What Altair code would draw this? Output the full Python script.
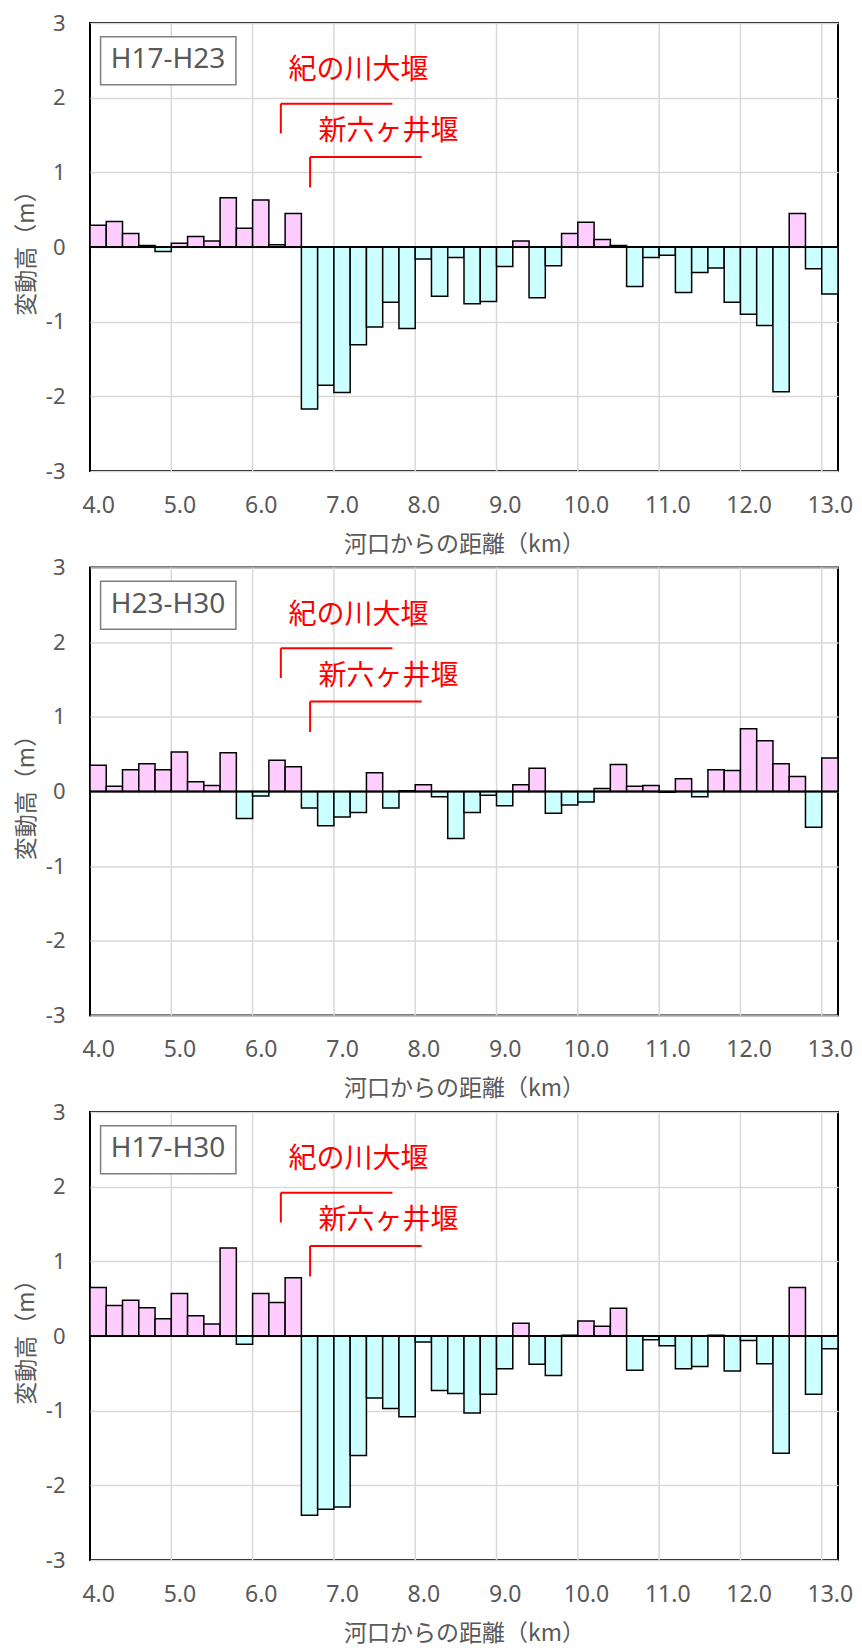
import altair as alt
import pandas as pd

# ---------------- data ----------------
distance_km = [4.0, 4.2, 4.4, 4.6, 4.8, 5.0, 5.2, 5.4, 5.6, 5.8,
               6.0, 6.2, 6.4, 6.6, 6.8, 7.0, 7.2, 7.4, 7.6, 7.8,
               8.0, 8.2, 8.4, 8.6, 8.8, 9.0, 9.2, 9.4, 9.6, 9.8,
               10.0, 10.2, 10.4, 10.6, 10.8, 11.0, 11.2, 11.4, 11.6, 11.8,
               12.0, 12.2, 12.4, 12.6, 12.8, 13.0]

h17_h23 = [0.29, 0.34, 0.18, 0.02, -0.06, 0.05, 0.14, 0.08, 0.66, 0.25,
           0.63, 0.03, 0.45, -2.17, -1.85, -1.95, -1.31, -1.07, -0.74, -1.09,
           -0.16, -0.66, -0.14, -0.76, -0.73, -0.26, 0.08, -0.68, -0.25, 0.18,
           0.33, 0.10, 0.02, -0.53, -0.14, -0.11, -0.61, -0.34, -0.28, -0.74,
           -0.90, -1.05, -1.94, 0.45, -0.29, -0.63]

h23_h30 = [0.35, 0.07, 0.29, 0.37, 0.29, 0.53, 0.13, 0.08, 0.52, -0.36,
           -0.06, 0.42, 0.33, -0.22, -0.46, -0.34, -0.28, 0.25, -0.22, 0.01,
           0.09, -0.07, -0.63, -0.28, -0.05, -0.19, 0.09, 0.31, -0.29, -0.18,
           -0.14, 0.04, 0.36, 0.07, 0.08, -0.01, 0.17, -0.07, 0.29, 0.28,
           0.84, 0.68, 0.37, 0.20, -0.48, 0.45]

h17_h30 = [0.65, 0.41, 0.48, 0.38, 0.23, 0.57, 0.27, 0.16, 1.18, -0.11,
           0.57, 0.45, 0.78, -2.40, -2.32, -2.29, -1.60, -0.83, -0.97, -1.08,
           -0.08, -0.73, -0.77, -1.03, -0.78, -0.44, 0.17, -0.38, -0.53, 0.01,
           0.20, 0.13, 0.37, -0.46, -0.05, -0.13, -0.44, -0.41, 0.01, -0.47,
           -0.06, -0.37, -1.57, 0.65, -0.78, -0.17]

period_labels = ["H17-H23", "H23-H30", "H17-H30"]
weir_names = ["紀の川大堰", "新六ヶ井堰"]
x_tick_values = [4, 5, 6, 7, 8, 9, 10, 11, 12, 13]
y_tick_values = [-3, -2, -1, 0, 1, 2, 3]

# ---------------- style ----------------
PINK = "#FFCCFF"
CYAN = "#CCFFFF"
GRID = "#D9D9D9"
TXT = "#595959"
RED = "#FF0000"
W, H = 748, 448

x_scale = alt.Scale(domain=[3.9, 13.1], nice=False, zero=False)
y_scale = alt.Scale(domain=[-3, 3], nice=False, zero=False)

x_axis = alt.Axis(values=x_tick_values, labelExpr="format(datum.value, '.1f')",
                  grid=False, ticks=False, tickSize=0, domain=False,
                  labelFont="Noto Sans", labelFontSize=23, labelColor=TXT,
                  labelPadding=34, labelBaseline="middle", labelFlush=False,
                  labelOverlap=False,
                  title="河口からの距離（km）", titleFont="Noto Sans CJK JP",
                  titleFontSize=23, titleFontWeight="normal", titleColor=TXT,
                  titleX=W / 2, titleY=73, titleBaseline="middle", titleAlign="center")

y_axis = alt.Axis(values=y_tick_values, labelExpr="'' + datum.value",
                  grid=True, gridColor=GRID, gridWidth=1.5,
                  ticks=False, tickSize=0, domain=False,
                  labelFont="Noto Sans", labelFontSize=22, labelColor=TXT,
                  labelPadding=25, labelFlush=False, labelOverlap=False,
                  title="変動高（m）", titleFont="Noto Sans CJK JP",
                  titleFontSize=23, titleFontWeight="normal", titleColor=TXT,
                  titleX=-64, titleY=H / 2, titleBaseline="middle", titleAlign="center")


def X(field):
    return alt.X(field, scale=x_scale, axis=x_axis)


def Y(field):
    return alt.Y(field, scale=y_scale, axis=y_axis)


def panel(values, label):
    df = pd.DataFrame({"km": distance_km, "v": values})

    grid_df = pd.DataFrame({"g": [k - 0.1 for k in x_tick_values[1:]]})
    vgrid = alt.Chart(grid_df).mark_rule(color=GRID, strokeWidth=1.5).encode(
        x=X("g:Q")
    )

    bars = alt.Chart(df).transform_calculate(
        x0="datum.km - 0.1", x1="datum.km + 0.1"
    ).mark_rect(stroke="black", strokeWidth=1.5).encode(
        x=X("x0:Q"),
        x2="x1:Q",
        y=Y("v:Q"),
        y2=alt.datum(0),
        color=alt.condition("datum.v >= 0", alt.value(PINK), alt.value(CYAN)),
    )

    zero = alt.Chart(pd.DataFrame({"z": [0]})).mark_rule(
        color="black", strokeWidth=2
    ).encode(y=Y("z:Q"))

    box_df = pd.DataFrame({"x": [4.03], "x2": [5.695], "y": [2.817], "y2": [2.172],
                           "tx": [4.86], "ty": [2.5], "t": [label]})
    box = alt.Chart(box_df).mark_rect(fill="white", stroke="#7F7F7F", strokeWidth=1.5).encode(
        x=X("x:Q"), x2="x2:Q",
        y=Y("y:Q"), y2="y2:Q",
    )
    box_text = alt.Chart(box_df).mark_text(
        font="Noto Sans", fontSize=28, color=TXT, align="center", baseline="middle"
    ).encode(x=X("tx:Q"), y=Y("ty:Q"), text="t:N")

    line_df = pd.DataFrame({
        "x": [6.247, 6.247, 6.607, 6.607],
        "x2": [7.62, 6.247, 7.98, 6.607],
        "y": [1.92, 1.92, 1.205, 1.205],
        "y2": [1.92, 1.52, 1.205, 0.797],
    })
    brackets = alt.Chart(line_df).mark_rule(color=RED, strokeWidth=2).encode(
        x=X("x:Q"), x2="x2:Q",
        y=Y("y:Q"), y2="y2:Q",
    )

    name_df = pd.DataFrame({"x": [6.34, 6.71], "y": [2.354, 1.539], "t": weir_names})
    names = alt.Chart(name_df).mark_text(
        font="Noto Sans CJK JP", fontSize=28, color=RED, align="left", baseline="middle"
    ).encode(x=X("x:Q"), y=Y("y:Q"), text="t:N")

    return alt.layer(vgrid, bars, zero, box, box_text, brackets, names).properties(
        width=W, height=H
    )


chart = alt.vconcat(
    panel(h17_h23, period_labels[0]),
    panel(h23_h30, period_labels[1]),
    panel(h17_h30, period_labels[2]),
    spacing=96.5,
    bounds="flush",
).properties(
    padding={"left": 6, "top": 3, "right": 0, "bottom": 0}
).configure_view(
    stroke="black", strokeWidth=2
)

chart.save("out.html", embed_options={"renderer": "svg", "actions": False})
